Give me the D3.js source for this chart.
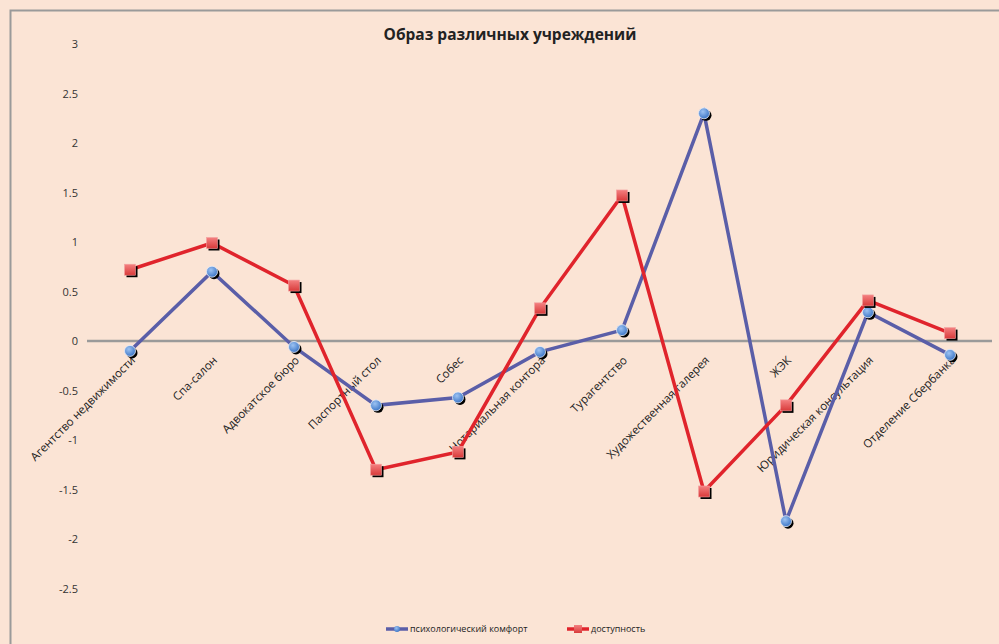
<!DOCTYPE html>
<html lang="ru">
<head>
    <meta charset="UTF-8">
    <title>Образ различных учреждений</title>
    <script src="https://d3js.org/d3.v7.min.js"></script>
    <style>
        body {
            margin: 0;
            padding: 0;
            background-color: #fbe4d5;
        }
        svg {
            display: block;
            font-family: 'Open Sans', 'Noto Sans', sans-serif;
        }
        .title {
            font-size: 15.5px;
            font-weight: bold;
            fill: #222;
            text-anchor: middle;
        }
        .tick-label {
            font-size: 11px;
            fill: #333;
            text-anchor: end;
        }
        .cat-label {
            font-size: 11.5px;
            fill: #222;
            text-anchor: end;
        }
        .legend-text {
            font-size: 9px;
            fill: #222;
        }
    </style>
</head>
<body>
    <svg width="999" height="644"></svg>

    <script>
        const categories = [
            "Агентство недвижимости",
            "Спа-салон",
            "Адвокатское бюро",
            "Паспортный стол",
            "Собес",
            "Нотариальная контора",
            "Турагентство",
            "Художественная галерея",
            "ЖЭК",
            "Юридическая консультация",
            "Отделение Сбербанка"
        ];
        const comfort = [-0.10, 0.70, -0.06, -0.65, -0.57, -0.11, 0.11, 2.30, -1.82, 0.29, -0.14];
        const access = [0.72, 0.99, 0.56, -1.30, -1.12, 0.33, 1.47, -1.52, -0.65, 0.41, 0.08];
        const yTicks = [3, 2.5, 2, 1.5, 1, 0.5, 0, -0.5, -1, -1.5, -2, -2.5];
        const seriesNames = ["психологический комфорт", "доступность"];

        const svg = d3.select("svg");

        const blue = "#5a5ea8";
        const red = "#e0242c";

        // chart frame (cut off at right and bottom like the original)
        svg.append("rect")
            .attr("x", 10.5)
            .attr("y", 10.5)
            .attr("width", 1000)
            .attr("height", 700)
            .attr("fill", "#fbe4d5")
            .attr("stroke", "#9a9a9a")
            .attr("stroke-width", 2);

        const xScale = d3.scaleBand()
            .domain(categories)
            .range([89, 991]);

        const yScale = d3.scaleLinear()
            .domain([-3, 3])
            .range([638, 44]);

        const cx = d => xScale(d) + xScale.bandwidth() / 2;

        svg.append("text")
            .attr("class", "title")
            .attr("x", 510)
            .attr("y", 40)
            .text("Образ различных учреждений");

        svg.selectAll(".tick-label")
            .data(yTicks)
            .enter()
            .append("text")
            .attr("class", "tick-label")
            .attr("x", 78)
            .attr("y", d => yScale(d) + 4)
            .text(d => d);

        // zero line
        svg.append("line")
            .attr("x1", 87)
            .attr("x2", 992)
            .attr("y1", yScale(0))
            .attr("y2", yScale(0))
            .attr("stroke", "#9a9a9a")
            .attr("stroke-width", 2.5);

        svg.selectAll(".cat-label")
            .data(categories)
            .enter()
            .append("text")
            .attr("class", "cat-label")
            .attr("transform", d => `translate(${cx(d) + 6},${yScale(0) + 20}) rotate(-45)`)
            .text(d => d);

        const line = d3.line()
            .x((d, i) => cx(categories[i]))
            .y(d => yScale(d));

        svg.append("path")
            .datum(comfort)
            .attr("d", line)
            .attr("fill", "none")
            .attr("stroke", blue)
            .attr("stroke-width", 3.5);

        svg.append("path")
            .datum(access)
            .attr("d", line)
            .attr("fill", "none")
            .attr("stroke", red)
            .attr("stroke-width", 3.5);

        const defs = svg.append("defs");
        const gBlue = defs.append("radialGradient").attr("id", "gBlue")
            .attr("cx", "40%").attr("cy", "35%").attr("r", "65%");
        gBlue.append("stop").attr("offset", "0%").attr("stop-color", "#9cc2f2");
        gBlue.append("stop").attr("offset", "100%").attr("stop-color", "#3f78c8");
        const gRed = defs.append("linearGradient").attr("id", "gRed")
            .attr("x1", "0").attr("y1", "0").attr("x2", "0").attr("y2", "1");
        gRed.append("stop").attr("offset", "0%").attr("stop-color", "#f48080");
        gRed.append("stop").attr("offset", "100%").attr("stop-color", "#d83a3a");

        function blueMarker(g, x, y, r) {
            g.append("circle").attr("cx", x + 2).attr("cy", y + 2).attr("r", r).attr("fill", "#000");
            g.append("circle").attr("cx", x).attr("cy", y).attr("r", r)
                .attr("fill", "url(#gBlue)").attr("stroke", "#e8eef8").attr("stroke-width", 0.8);
        }
        function redMarker(g, x, y, s) {
            g.append("rect").attr("x", x - s / 2 + 2).attr("y", y - s / 2 + 2)
                .attr("width", s).attr("height", s).attr("fill", "#000");
            g.append("rect").attr("x", x - s / 2).attr("y", y - s / 2)
                .attr("width", s).attr("height", s)
                .attr("fill", "url(#gRed)").attr("stroke", "#f3a0a0").attr("stroke-width", 0.6);
        }

        const markers = svg.append("g");
        comfort.forEach((v, i) => blueMarker(markers, cx(categories[i]), yScale(v), 5.5));
        access.forEach((v, i) => redMarker(markers, cx(categories[i]), yScale(v), 11));

        // legend
        const legend = svg.append("g");
        const legendItems = [
            { name: seriesNames[0], color: blue, x: 386, type: "blue" },
            { name: seriesNames[1], color: red, x: 567, type: "red" }
        ];
        legendItems.forEach(item => {
            legend.append("line")
                .attr("x1", item.x).attr("x2", item.x + 22)
                .attr("y1", 629).attr("y2", 629)
                .attr("stroke", item.color).attr("stroke-width", 3.5);
            if (item.type === "blue") {
                legend.append("circle").attr("cx", item.x + 11).attr("cy", 629).attr("r", 3)
                    .attr("fill", "url(#gBlue)");
            } else {
                legend.append("rect").attr("x", item.x + 7).attr("y", 625)
                    .attr("width", 8).attr("height", 8).attr("fill", "url(#gRed)");
            }
            legend.append("text")
                .attr("class", "legend-text")
                .attr("x", item.x + 24)
                .attr("y", 632)
                .text(item.name);
        });
    </script>
</body>
</html>
